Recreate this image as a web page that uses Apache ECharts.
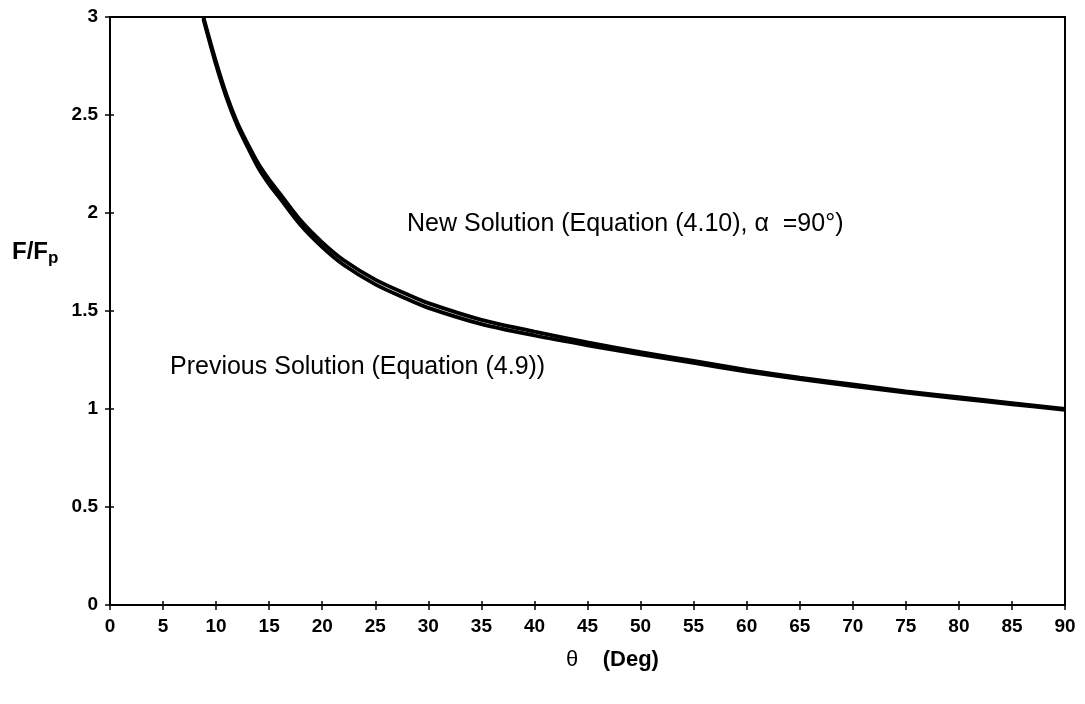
<!DOCTYPE html>
<html>
<head>
<meta charset="utf-8">
<script src="https://cdn.jsdelivr.net/npm/echarts@6/dist/echarts.min.js"></script>
<style>html,body{margin:0;padding:0;background:#fff;}#c{width:1085px;height:704px;}</style>
</head>
<body>
<div id="c"></div>
<script>
const theta   = [8.8, 10, 11, 12, 13, 14, 15, 16, 18, 20, 22, 25, 28, 30, 35, 40, 45, 50, 55, 60, 65, 70, 75, 80, 85, 90];
const newSol  = [3.0, 2.77, 2.6, 2.46, 2.35, 2.25, 2.17, 2.10, 1.96, 1.85, 1.76, 1.66, 1.585, 1.54, 1.455, 1.395, 1.34, 1.29, 1.245, 1.20, 1.16, 1.125, 1.09, 1.06, 1.03, 1.0];
const prevSol = [2.99, 2.755, 2.585, 2.445, 2.333, 2.228, 2.146, 2.076, 1.936, 1.826, 1.736, 1.636, 1.561, 1.516, 1.433, 1.375, 1.325, 1.279, 1.235, 1.191, 1.152, 1.117, 1.083, 1.053, 1.024, 0.996];
const xTicks = [0, 90, 5];
const yTicks = [0, 3, 0.5];
const labelNew = 'New Solution (Equation (4.10), \u03b1  =90\u00b0)';
const labelPrev = 'Previous Solution (Equation (4.9))';

const FONT = '"Liberation Sans", Arial, Helvetica, sans-serif';
const chart = echarts.init(document.getElementById('c'));
const pair = a => theta.map((t, i) => [t, a[i]]);
const axisBase = {
  type: 'value', gridIndex: 0,
  axisLine: {show: true, lineStyle: {color: '#000', width: 2}},
  splitLine: {show: false}
};
chart.setOption({
  animation: false,
  backgroundColor: '#fff',
  grid: {left: 110, right: 20, top: 17, bottom: 99, show: true, borderColor: '#000', borderWidth: 2, containLabel: false},
  xAxis: [
    Object.assign({}, axisBase, {min: xTicks[0], max: xTicks[1], interval: xTicks[2],
      axisTick: {show: true, length: 5, lineStyle: {color: '#000', width: 1.5}},
      axisLabel: {color: '#000', fontFamily: FONT, fontWeight: 'bold', fontSize: 19, margin: 12}}),
    Object.assign({}, axisBase, {min: xTicks[0], max: xTicks[1], interval: xTicks[2], position: 'bottom',
      axisLine: {show: false},
      axisTick: {show: true, inside: true, length: 4, lineStyle: {color: '#000', width: 1.5}},
      axisLabel: {show: false}})
  ],
  yAxis: [
    Object.assign({}, axisBase, {min: yTicks[0], max: yTicks[1], interval: yTicks[2],
      axisTick: {show: true, length: 5, lineStyle: {color: '#000', width: 1.5}},
      axisLabel: {color: '#000', fontFamily: FONT, fontWeight: 'bold', fontSize: 19, margin: 12}}),
    Object.assign({}, axisBase, {min: yTicks[0], max: yTicks[1], interval: yTicks[2], position: 'left',
      axisLine: {show: false},
      axisTick: {show: true, inside: true, length: 4, lineStyle: {color: '#000', width: 1.5}},
      axisLabel: {show: false}})
  ],
  series: [
    {name: 'New Solution', type: 'line', xAxisIndex: 0, yAxisIndex: 0, data: pair(newSol), smooth: 0.3,
      showSymbol: false, lineStyle: {color: '#000', width: 3.8}},
    {name: 'Previous Solution', type: 'line', xAxisIndex: 0, yAxisIndex: 0, data: pair(prevSol), smooth: 0.3,
      showSymbol: false, lineStyle: {color: '#000', width: 3.8}}
  ],
  graphic: [
    {type: 'text', left: 407, top: 212, style: {text: labelNew, font: '25px ' + FONT, fill: '#000'}},
    {type: 'text', left: 170, top: 355, style: {text: labelPrev, font: '25px ' + FONT, fill: '#000'}},
    {type: 'text', left: 12, top: 240, style: {
      text: '{a|F/F}{b|p}', fill: '#000',
      rich: {a: {fontFamily: FONT, fontWeight: 'bold', fontSize: 24, fill: '#000'},
             b: {fontFamily: FONT, fontWeight: 'bold', fontSize: 17, fill: '#000', padding: [12, 0, 0, 0]}}}},
    {type: 'text', left: 566, top: 649, style: {
      text: '{t|\u03b8}{d|    (Deg)}', fill: '#000',
      rich: {t: {fontFamily: FONT, fontSize: 22, fill: '#000'},
             d: {fontFamily: FONT, fontWeight: 'bold', fontSize: 22, fill: '#000'}}}}
  ]
});
</script>
</body>
</html>
